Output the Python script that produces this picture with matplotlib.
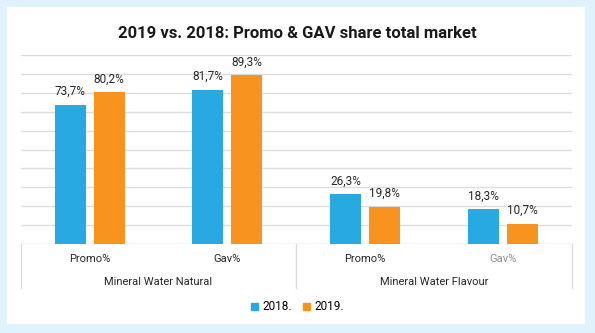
import matplotlib
matplotlib.use('Agg')
import matplotlib.pyplot as plt
import matplotlib.transforms as mtransforms
from matplotlib.patches import Patch, Rectangle

plt.rcParams['font.family'] = ['Roboto', 'DejaVu Sans']

groups = ["Mineral Water Natural", "Mineral Water Flavour"]
subcats = ["Promo%", "Gav%", "Promo%", "Gav%"]
sub_colors = ['#262626', '#262626', '#262626', '#8c8c8c']
series = ["2018.", "2019."]
v2018 = [73.7, 81.7, 26.3, 18.3]
v2019 = [80.2, 89.3, 19.8, 10.7]

blue = '#29a9e1'
orange = '#f7931e'
grid = '#dcdcdc'

fig = plt.figure(figsize=(5.95, 3.33), dpi=100)
fig.set_facecolor('#e0f2fb')
fig.patches.append(Rectangle((7 / 595, 1 - 324 / 333), 578 / 595, 317 / 333,
                             transform=fig.transFigure, facecolor='white',
                             edgecolor='none', zorder=-10))

ax = fig.add_axes([20.7 / 595, 1 - 244 / 333, 551.3 / 595, 189 / 333])
ax.set_facecolor('none')

x = list(range(len(subcats)))
w = 0.225
off = 0.1415
b1 = ax.bar([i - off for i in x], v2018, w, color=blue, zorder=3)
b2 = ax.bar([i + off for i in x], v2019, w, color=orange, zorder=3)

for bars, vals in ((b1, v2018), (b2, v2019)):
    for rect, v in zip(bars, vals):
        ax.annotate(f"{v:.1f}%".replace('.', ','),
                    (rect.get_x() + rect.get_width() / 2, v),
                    xytext=(0, 5), textcoords='offset points',
                    ha='center', va='bottom', fontsize=8.5, color='#262626')

ax.set_xlim(-0.5, 3.5)
ax.set_ylim(0, 100)
ax.set_yticks(range(0, 101, 10))
ax.yaxis.grid(True, color=grid, linewidth=1, zorder=0)
ax.tick_params(left=False, bottom=False, labelleft=False, labelbottom=False)
for s in ax.spines.values():
    s.set_visible(False)
ax.axhline(0, color=grid, linewidth=1, zorder=2)

# two-level category axis
tr = mtransforms.blended_transform_factory(ax.transData, ax.transAxes)
for xv in (-0.5, 1.5, 3.5):
    ax.plot([xv, xv], [0, -0.233], transform=tr, color=grid, linewidth=1,
            clip_on=False)
for i, (lab, c) in enumerate(zip(subcats, sub_colors)):
    ax.text(i, -0.081, lab, transform=tr, ha='center', va='center',
            fontsize=8, color=c)
for j, g in enumerate(groups):
    ax.text(2 * j + 0.5, -0.1995, g, transform=tr, ha='center', va='center',
            fontsize=8, color='#262626')

fig.text(0.5, 1 - 33 / 333, "2019 vs. 2018: Promo & GAV share total market",
         ha='center', va='center', fontsize=12, fontweight='bold',
         color='#1a1a1a')

handles = [Patch(color=blue, label=series[0]), Patch(color=orange, label=series[1])]
fig.legend(handles=handles, loc='center', bbox_to_anchor=(0.5, 1 - 307 / 333),
           ncol=2, frameon=False, fontsize=8.5, handlelength=0.6,
           handleheight=0.6, handletextpad=0.3, columnspacing=1.0)

fig.savefig('out.png', dpi=100, facecolor=fig.get_facecolor())
